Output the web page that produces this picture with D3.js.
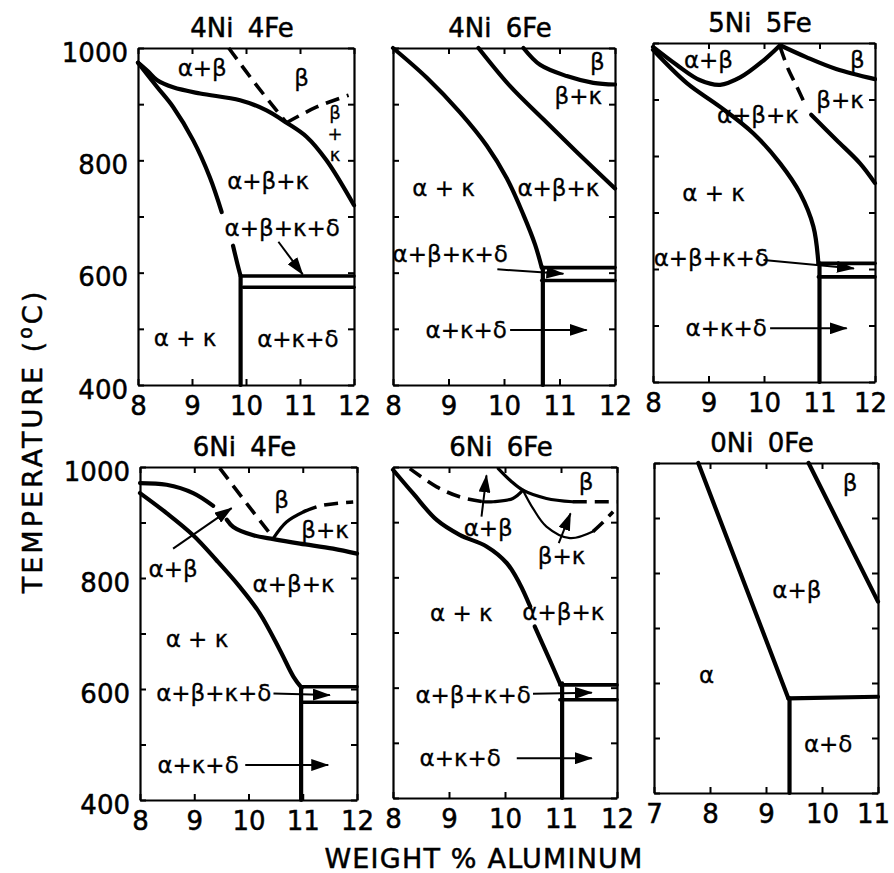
<!DOCTYPE html>
<html>
<head>
<meta charset="utf-8">
<script src="https://cdn.jsdelivr.net/npm/d3@7/dist/d3.min.js"></script>
<style>
  body { margin: 0; background: #fff; }
  text { font-family: "DejaVu Sans", sans-serif; fill: #000; }
</style>
</head>
<body>
<svg id="chart" width="894" height="873"></svg>
<script>
// ---- data ----
const panelTitles = ["4Ni 4Fe", "4Ni 6Fe", "5Ni 5Fe", "6Ni 4Fe", "6Ni 6Fe", "0Ni 0Fe"];
const alDomains = [[8, 12], [8, 12], [8, 12], [8, 12], [8, 12], [7, 11]];
const tempDomain = [400, 1000];
const tempTicks = [400, 500, 600, 700, 800, 900, 1000];
const tempTickLabels = [400, 600, 800, 1000];

// phase boundaries: [kind, [[wt% Al, temp], ...]]
const bounds4Ni4Fe = [
  ["solid", [[8, 974], [8.19, 958], [8.35, 943], [8.65, 930], [9.15, 919], [9.89, 907], [10.38, 889], [10.75, 867], [11.12, 842], [11.49, 800], [12, 720]]],
  ["solid", [[8, 974], [8.35, 931], [8.65, 895], [9.02, 836], [9.33, 770], [9.55, 708]]],
  ["solid", [[9.76, 648], [9.84, 616], [9.9, 594]]],
  ["solid", [[9.9, 594], [9.9, 400]]],
  ["rule", [[9.9, 594], [12, 594]]],
  ["rule", [[9.95, 574], [12, 574]]],
  ["dash", [[9.68, 1000], [10.2, 933], [10.75, 867]]],
  ["dash", [[10.75, 867], [11.31, 895], [11.9, 916]]]
];
const bounds4Ni6Fe = [
  ["solid", [[8, 1000], [8.61, 947], [9.21, 885], [9.69, 826], [10.05, 768], [10.35, 703], [10.56, 650], [10.68, 609]]],
  ["solid", [[10.7, 609], [10.7, 400]]],
  ["rule", [[10.68, 609], [12, 609]]],
  ["rule", [[10.68, 586], [12, 586]]],
  ["solid", [[9.54, 1000], [10.11, 932], [10.71, 873], [11.31, 815], [12, 750]]],
  ["solid", [[10.35, 1000], [10.65, 970], [11.13, 950], [11.61, 938], [12, 935]]]
];
const bounds5Ni5Fe = [
  ["solid", [[8, 993], [8.43, 961], [8.85, 934], [9.21, 926], [9.57, 939], [9.99, 969], [10.29, 996]]],
  ["solid", [[10.29, 996], [10.76, 975], [11.3, 954], [12, 936]]],
  ["dash", [[10.29, 993], [10.44, 953], [10.59, 923], [10.76, 887]]],
  ["solid", [[10.85, 873], [11.31, 828], [11.73, 787], [12, 752]]],
  ["solid", [[8, 988], [8.61, 929], [9.21, 887], [9.81, 840], [10.29, 787], [10.65, 734], [10.89, 675], [10.98, 610]]],
  ["solid", [[11, 610], [11, 400]]],
  ["rule", [[10.98, 610], [12, 610]]],
  ["rule", [[10.98, 586], [12, 586]]]
];
const bounds6Ni4Fe = [
  ["solid", [[8, 971], [8.49, 968], [8.98, 953], [9.35, 930]]],
  ["solid", [[9.6, 905], [9.72, 892], [10.09, 877], [10.46, 870], [10.95, 862], [11.56, 853], [12, 844]]],
  ["solid", [[8, 953], [8.49, 917], [8.98, 877], [9.41, 832], [9.84, 784], [10.21, 736], [10.58, 670], [10.83, 622], [10.98, 602]]],
  ["solid", [[10.97, 602], [10.97, 400]]],
  ["rule", [[10.98, 604], [12, 604]]],
  ["rule", [[10.98, 576], [12, 576]]],
  ["dash", [[9.47, 998], [10.0, 930], [10.46, 872]]],
  ["mid", [[10.46, 872], [10.7, 901], [11.01, 919]]],
  ["dash", [[11.01, 919], [11.32, 930], [11.93, 937]]]
];
const bounds6Ni6Fe = [
  ["solid", [[8, 995], [8.36, 952], [8.78, 904], [9.19, 877], [9.67, 856], [10.03, 826], [10.26, 789], [10.45, 747]]],
  ["solid", [[10.53, 711], [10.8, 650], [10.98, 608]]],
  ["solid", [[11.02, 608], [11.02, 400]]],
  ["rule", [[10.98, 605], [12, 605]]],
  ["rule", [[10.98, 578], [12, 578]]],
  ["dash", [[8.3, 997], [8.78, 964], [9.19, 946], [9.6, 937]]],
  ["mid", [[9.6, 937], [9.79, 937], [10.14, 943], [10.32, 958]]],
  ["mid", [[9.88, 997], [10.1, 975], [10.32, 958], [10.74, 943], [11.21, 937]]],
  ["dash", [[11.21, 937], [12, 937]]],
  ["thin", [[10.32, 958], [10.5, 925], [10.74, 892], [11.16, 871], [11.57, 883]]],
  ["dash", [[11.57, 883], [11.75, 900], [11.93, 919]]]
];
const bounds0Ni0Fe = [
  ["solid", [[7.79, 1000], [9.4, 572]]],
  ["solid", [[9.42, 572], [9.42, 400]]],
  ["solid", [[9.76, 1000], [11, 748]]],
  ["solid", [[9.4, 572], [11, 575]]]
];

// phase field labels: [text, wt% Al, temp]  ("\n" stacks lines)
const labels4Ni4Fe = [["α+β", 9.19, 964], ["β", 11.03, 946], ["β\n+\nκ", 11.65, 885],
  ["α+β+κ", 10.41, 764], ["α+β+κ+δ", 10.67, 680], ["α + κ", 8.87, 484], ["α+κ+δ", 10.96, 482]];
const labels4Ni6Fe = [["β", 11.68, 976], ["β+κ", 11.34, 914], ["α + κ", 8.91, 750], ["α+β+κ", 10.98, 750],
  ["α+β+κ+δ", 9.03, 633], ["α+κ+δ", 9.32, 498]];
const labels5Ni5Fe = [["α+β", 9.0, 970], ["β", 11.68, 970], ["β+κ", 11.37, 899], ["α+β+κ", 9.89, 873],
  ["α + κ", 9.09, 734], ["α+β+κ+δ", 9.05, 619], ["α+κ+δ", 9.32, 495]];
const labels6Ni4Fe = [["β", 10.61, 941], ["β+κ", 11.41, 886], ["α+β", 8.61, 817], ["α+β+κ", 10.83, 790],
  ["α + κ", 9.05, 691], ["α+β+κ+δ", 9.36, 593], ["α+κ+δ", 9.07, 463]];
const labels6Ni6Fe = [["β", 11.45, 973], ["α+β", 9.7, 889], ["β+κ", 11.01, 838], ["α + κ", 9.22, 735],
  ["α+β+κ", 11.04, 738], ["α+β+κ+δ", 9.43, 587], ["α+κ+δ", 9.2, 472]];
const labels0Ni0Fe = [["β", 10.5, 963], ["α+β", 9.55, 769], ["α", 7.94, 615], ["α+δ", 10.11, 490]];

// pointer arrows: [[from wt%, temp], [to wt%, temp]]
const arrows4Ni4Fe = [[[10.6, 655], [11.05, 597]]];
const arrows4Ni6Fe = [[[9.88, 606], [11.07, 598]], [[10.11, 498], [11.49, 498]]];
const arrows5Ni5Fe = [[[9.99, 616], [11.62, 601]], [[10.11, 495], [11.49, 495]]];
const arrows6Ni4Fe = [[[8.61, 853], [9.69, 926]], [[10.46, 592], [11.5, 589]], [[9.94, 463], [11.47, 463]]];
const arrows6Ni6Fe = [[[9.58, 910], [9.67, 985]], [[10.96, 862], [11.17, 916]], [[10.5, 589], [11.55, 591]], [[10.21, 472], [11.55, 472]]];
const arrows0Ni0Fe = [];

const allBounds = [bounds4Ni4Fe, bounds4Ni6Fe, bounds5Ni5Fe, bounds6Ni4Fe, bounds6Ni6Fe, bounds0Ni0Fe];
const allLabels = [labels4Ni4Fe, labels4Ni6Fe, labels5Ni5Fe, labels6Ni4Fe, labels6Ni6Fe, labels0Ni0Fe];
const allArrows = [arrows4Ni4Fe, arrows4Ni6Fe, arrows5Ni5Fe, arrows6Ni4Fe, arrows6Ni6Fe, arrows0Ni0Fe];

// ---- layout ----
// frame boxes [left, top, right, bottom]
const frames = [[138, 48, 354, 385], [393, 48, 615, 385], [653, 43, 875, 382],
                [140, 467, 357, 800], [393, 467, 617, 798], [654, 463, 878, 793]];

const lineStyle = {
  solid: { w: 4.2, dash: null },
  rule:  { w: 3.6, dash: null },
  mid:   { w: 3.2, dash: null },
  thin:  { w: 2.2, dash: null },
  dash:  { w: 3.6, dash: "14,8" }
};

const svg = d3.select("#chart");

svg.append("defs").append("marker")
  .attr("id", "head")
  .attr("markerUnits", "userSpaceOnUse")
  .attr("viewBox", "0 0 18 12")
  .attr("markerWidth", 18).attr("markerHeight", 12)
  .attr("refX", 17).attr("refY", 6)
  .attr("orient", "auto")
  .append("path").attr("d", "M0,0 L18,6 L0,12 Z").attr("fill", "#000");

frames.forEach((f, i) => {
  const [l, t, r, b] = f;
  const x = d3.scaleLinear().domain(alDomains[i]).range([l, r]);
  const y = d3.scaleLinear().domain(tempDomain).range([b, t]);
  const xt = d3.range(alDomains[i][0], alDomains[i][1] + 1);
  const g = svg.append("g");

  // frame with inward ticks
  const bottom = g.append("g").attr("transform", `translate(0,${b})`)
    .call(d3.axisBottom(x).tickValues(xt).tickSize(-6).tickSizeOuter(0).tickPadding(12).tickFormat(d3.format("d")));
  const top = g.append("g").attr("transform", `translate(0,${t})`)
    .call(d3.axisTop(x).tickValues(xt).tickSize(-6).tickSizeOuter(0).tickFormat(""));
  const left = g.append("g").attr("transform", `translate(${l},0)`)
    .call(d3.axisLeft(y).tickValues(tempTicks).tickSize(-6).tickSizeOuter(0).tickPadding(10)
      .tickFormat(d => (i % 3 === 0 && tempTickLabels.includes(d)) ? d : ""));
  const right = g.append("g").attr("transform", `translate(${r},0)`)
    .call(d3.axisRight(y).tickValues(tempTicks).tickSize(-6).tickSizeOuter(0).tickFormat(""));

  [bottom, top, left, right].forEach(a => {
    a.select(".domain").attr("stroke-width", 2.2);
    a.selectAll(".tick line").attr("stroke-width", 2);
    a.selectAll(".tick text").attr("font-family", "DejaVu Sans").attr("font-size", 26)
      .attr("fill", "#000").attr("stroke", "#000").attr("stroke-width", 0.5);
  });
  left.selectAll(".tick text").attr("dy", "0.5em");
  // keep the last label inside the page
  bottom.selectAll(".tick text").filter(d => x(d) > 870).attr("dx", -5);

  g.append("text")
    .attr("x", (l + r) / 2 - 4).attr("y", t - 11)
    .attr("text-anchor", "middle")
    .attr("font-size", 26).attr("word-spacing", 6)
    .attr("stroke", "#000").attr("stroke-width", 0.5)
    .text(panelTitles[i]);

  const line = d3.line().x(d => x(d[0])).y(d => y(d[1])).curve(d3.curveCatmullRom.alpha(0.5));

  g.selectAll(".bound").data(allBounds[i]).enter()
    .append("path")
    .attr("class", "bound")
    .attr("d", d => line(d[1]))
    .attr("fill", "none")
    .attr("stroke", "#000")
    .attr("stroke-width", d => lineStyle[d[0]].w)
    .attr("stroke-dasharray", d => lineStyle[d[0]].dash)
    .attr("stroke-linecap", d => d[0] === "dash" ? "butt" : "round");

  g.selectAll(".arrow").data(allArrows[i]).enter()
    .append("line")
    .attr("class", "arrow")
    .attr("x1", d => x(d[0][0])).attr("y1", d => y(d[0][1]))
    .attr("x2", d => x(d[1][0])).attr("y2", d => y(d[1][1]))
    .attr("stroke", "#000").attr("stroke-width", 2)
    .attr("marker-end", "url(#head)");

  const phase = g.selectAll(".phase").data(allLabels[i]).enter()
    .append("text")
    .attr("class", "phase")
    .attr("x", d => x(d[1])).attr("y", d => y(d[2]))
    .attr("text-anchor", "middle")
    .attr("font-size", d => d[0].includes("\n") ? 18 : 23)
    .attr("stroke", "#000").attr("stroke-width", 0.3);
  phase.selectAll("tspan")
    .data(d => d[0].split("\n").map(s => ({ s, x: x(d[1]) })))
    .enter().append("tspan")
    .attr("x", d => d.x)
    .attr("dy", (d, k) => k === 0 ? "0.35em" : 21)
    .text(d => d.s);
});

// axis titles
svg.append("text")
  .attr("x", 484).attr("y", 868)
  .attr("text-anchor", "middle")
  .attr("font-size", 27).attr("letter-spacing", 1.2)
  .attr("stroke", "#000").attr("stroke-width", 0.5)
  .text("WEIGHT % ALUMINUM");

const yTitle = svg.append("text")
  .attr("transform", "translate(42,441) rotate(-90)")
  .attr("text-anchor", "middle")
  .attr("font-size", 27).attr("letter-spacing", 3)
  .attr("stroke", "#000").attr("stroke-width", 0.5);
yTitle.append("tspan").text("TEMPERATURE (");
yTitle.append("tspan").attr("font-size", 19).attr("dy", -10).text("o");
yTitle.append("tspan").attr("dy", 10).text("C)");
</script>
</body>
</html>
